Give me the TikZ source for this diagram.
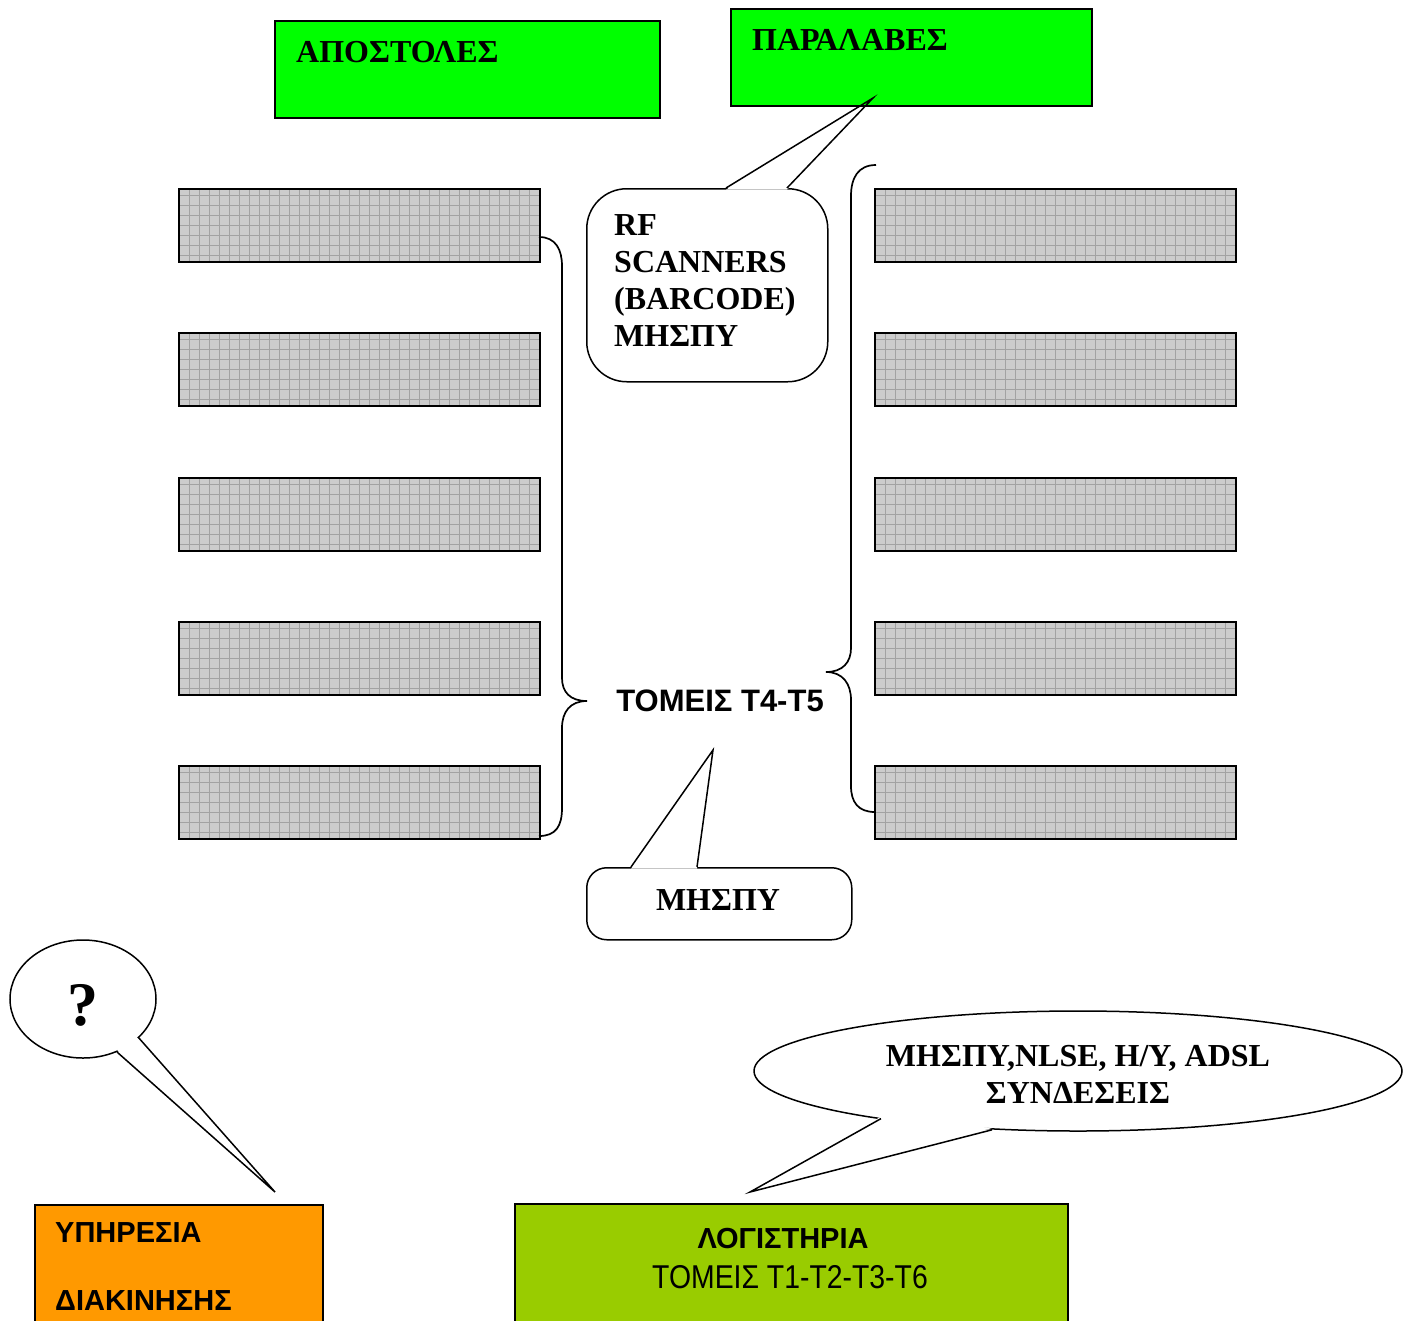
\documentclass[tikz,border=0pt]{standalone}
\usepackage{fontspec}
\setmainfont{Liberation Serif}
\setsansfont{Liberation Sans}
\newfontfamily\gothicfont[FakeStretch=0.86]{Liberation Sans}
\usetikzlibrary{shapes.geometric}

\definecolor{shelfgrey}{HTML}{CCCCCC}
\definecolor{gridgrey}{HTML}{A2A2A2}
\definecolor{bingreen}{HTML}{00FF00}
\definecolor{servorange}{HTML}{FF9900}
\definecolor{acctgreen}{HTML}{99CC00}

\begin{document}
\begin{tikzpicture}[x=1pt,y=-1pt,
  shelf/.style={draw=black, line width=2pt, fill=shelfgrey, inner sep=0pt,
    minimum width=361pt, minimum height=73pt, anchor=north west,
    path picture={\draw[gridgrey, line width=0.8pt, step=10pt]
      (path picture bounding box.south west) grid (path picture bounding box.north east);}},
  areabox/.style={draw=black, line width=2pt, inner sep=0pt, anchor=north west},
  bubble/.style={draw=black, line width=1.5pt, fill=white, inner sep=0pt},
  tail/.style={draw=black, line width=1.5pt},
  brace/.style={draw=black, line width=1.7pt},
  serifbold/.style={font=\fontsize{32}{37}\selectfont\bfseries, inner sep=0pt},
  sansbold/.style={font=\fontsize{31}{37}\selectfont\sffamily\bfseries, inner sep=0pt}
]
\useasboundingbox (0,0) rectangle (1412,1320);
\clip (0,0) rectangle (1412,1320);

% storage racks, left and right rows
\foreach \r/\yy in {1/188,2/332,3/477,4/621,5/765}{
  \node[shelf] (L\r) at (178,\yy) {};
  \node[shelf] (R\r) at (874,\yy) {};
}

% braces grouping the racks
\draw[brace] (539,237) .. controls (556,237) and (562,250) .. (562,266)
  -- (562,678) .. controls (562,692) and (570,701) .. (587,701)
  .. controls (570,701) and (562,712) .. (562,728)
  -- (562,808) .. controls (562,826) and (556,836) .. (539,836);
\draw[brace] (876,165) .. controls (858,165) and (851,178) .. (851,196)
  -- (851,648) .. controls (851,662) and (843,672) .. (826,672)
  .. controls (843,672) and (851,684) .. (851,700)
  -- (851,786) .. controls (851,802) and (858,812) .. (875,812);

\node[sansbold, anchor=base] (sect) at (720,711) {ΤΟΜΕΙΣ Τ4-Τ5};

% RF scanner callout
\node[bubble, rounded corners=40pt, minimum width=241pt, minimum height=193pt,
  anchor=north west] (rf) at (586,188) {};
\coordinate (rftip) at (873,98);
\fill[white] (726,189.6) -- (rftip) -- (787,189.6) -- cycle;

% top areas
\node[areabox, fill=bingreen, minimum width=385pt, minimum height=97pt] (send) at (274,20) {};
\node[areabox, fill=bingreen, minimum width=361pt, minimum height=97pt] (recv) at (730,8) {};
\node[serifbold, anchor=base west] (sendtxt) at (296,62) {ΑΠΟΣΤΟΛΕΣ};
\node[serifbold, anchor=base west] (recvtxt) at (752,50) {ΠΑΡΑΛΑΒΕΣ};

\draw[tail] (726,188) -- (rftip) -- (787,188);
\node[serifbold, anchor=base west, align=left] (rftxt) at (614,346)
  {RF\\SCANNERS\\(BARCODE)\\ΜΗΣΠΥ};

% MHSPY callout under the sectors
\node[bubble, rounded corners=20pt, minimum width=265pt, minimum height=72pt,
  anchor=north west] (mh) at (586,867) {};
\coordinate (mhtip) at (713,750);
\fill[white] (631,868.6) -- (mhtip) -- (697,868.6) -- cycle;
\draw[tail] (631,867) -- (mhtip) -- (697,867);
\node[serifbold, anchor=base] (mhtxt) at (718,910) {ΜΗΣΠΥ};

% question bubble
\node[bubble, ellipse, minimum width=146pt, minimum height=118pt] (q) at (83,999) {};
\coordinate (qtip) at (275,1192);
\fill[white] (117,1050) -- (qtip) -- (136,1036) -- cycle;
\draw[tail] (117,1052) -- (qtip) -- (138,1037);
\node[inner sep=0pt, font=\fontsize{62}{62}\selectfont\bfseries, anchor=base] (qtxt) at (83,1025) {?};

% network bubble
\node[bubble, ellipse, minimum width=648pt, minimum height=120pt] (net) at (1078,1071) {};
\coordinate (nettip) at (750,1192);
\fill[white] (881,1116.5) -- (nettip) -- (992,1128) -- cycle;
\draw[tail] (881,1118.6) -- (nettip) -- (992,1129.8);
\node[serifbold, align=center, anchor=base] (nettxt) at (1078,1103)
  {ΜΗΣΠΥ,NLSE, Η/Υ, ADSL\\ΣΥΝΔΕΣΕΙΣ};

% bottom departments
\node[areabox, fill=servorange, minimum width=288pt, minimum height=140pt] (serv) at (34,1204) {};
\node[inner sep=0pt, font=\fontsize{29}{68}\selectfont\sffamily\bfseries,
  anchor=base west, align=left] (servtxt) at (55,1310) {ΥΠΗΡΕΣΙΑ\\ΔΙΑΚΙΝΗΣΗΣ};

\node[areabox, fill=acctgreen, minimum width=553pt, minimum height=140pt] (acct) at (514,1203) {};
\node[inner sep=0pt, font=\fontsize{29}{30}\selectfont\sffamily\bfseries, anchor=base] (accttitle) at (783,1248) {ΛΟΓΙΣΤΗΡΙΑ};
\node[inner sep=0pt, font=\fontsize{33}{36}\selectfont\gothicfont, anchor=base] (acctsub) at (790,1288) {ΤΟΜΕΙΣ Τ1-Τ2-Τ3-Τ6};
\end{tikzpicture}
\end{document}
